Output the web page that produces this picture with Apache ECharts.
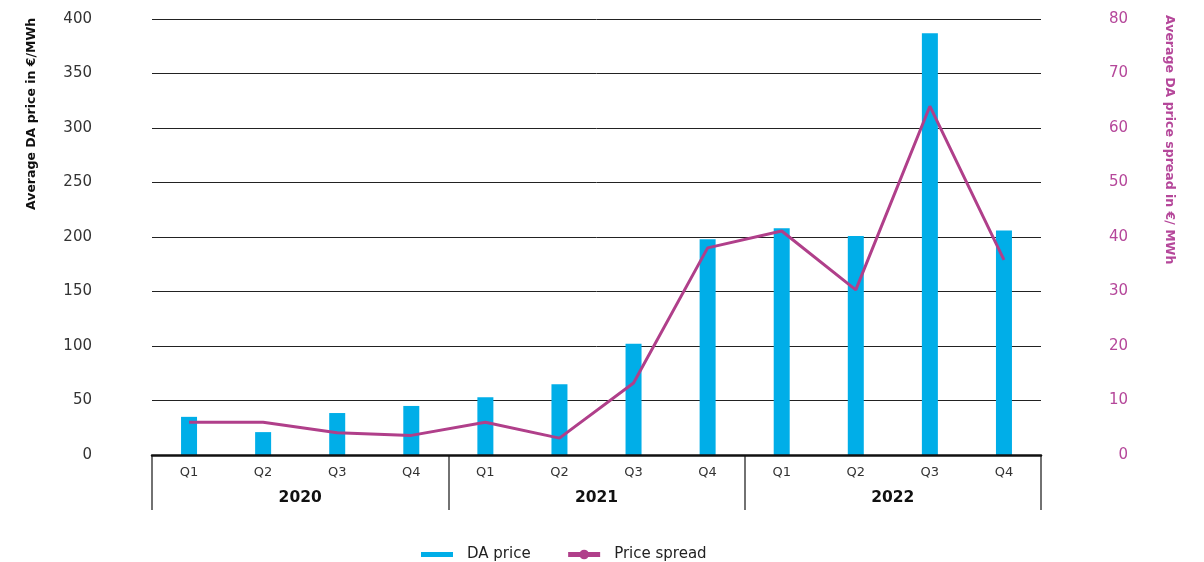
<!DOCTYPE html>
<html>
<head>
<meta charset="utf-8">
<script src="https://cdn.jsdelivr.net/npm/echarts@6/dist/echarts.min.js"></script>
<style>
  html, body { margin: 0; padding: 0; background: #fff; }
  #chart { width: 1204px; height: 562px; }
</style>
</head>
<body>
<div id="chart"></div>
<script>
// Quarterly day-ahead prices and spreads, 2020–2022
const quarters = ['Q1', 'Q2', 'Q3', 'Q4', 'Q1', 'Q2', 'Q3', 'Q4', 'Q1', 'Q2', 'Q3', 'Q4'];
const years = ['2020', '2021', '2022'];
const daPrice = [35, 21, 38.5, 45, 53, 65, 102, 198, 208, 201, 387, 206];
const priceSpread = [6, 6, 4.1, 3.6, 6, 3.1, 13.2, 38, 41.1, 30.3, 64, 35.8];
const leftTicks = { min: 0, max: 400, interval: 50 };
const rightTicks = { min: 0, max: 80, interval: 10 };

const FONT = 'DejaVu Sans';
const BLUE = '#00aee8';
const PURPLE = '#b03f8a';
const PINK_TEXT = '#b5479a';

const chart = echarts.init(document.getElementById('chart'));

chart.setOption({
  animation: false,
  textStyle: { fontFamily: FONT },
  grid: { left: 152, right: 163, top: 19, bottom: 107 },
  legend: {
    top: 542,
    left: 416,
    itemGap: 35,
    itemWidth: 32,
    itemHeight: 12,
    textStyle: { fontSize: 15, color: '#222', fontFamily: FONT, padding: [0, 0, 0, 9] },
    data: [
      { name: 'DA price', icon: 'path://M0,0h32v5h-32z' },
      { name: 'Price spread', lineStyle: { width: 5, color: PURPLE } }
    ]
  },
  xAxis: [
    {
      type: 'category',
      data: quarters,
      position: 'bottom',
      axisLine: { show: true, lineStyle: { color: '#111', width: 2.5 } },
      axisTick: { show: false },
      axisLabel: { margin: 11, fontSize: 13, color: '#333', interval: 0 },
      z: 5
    },
    {
      type: 'category',
      data: years,
      position: 'bottom',
      axisLine: { show: false },
      axisTick: { show: true, length: 55, interval: 0, lineStyle: { color: '#444', width: 1.5 } },
      axisLabel: { margin: 35, fontSize: 15.5, fontWeight: 'bold', color: '#111', interval: 0 }
    }
  ],
  yAxis: [
    {
      type: 'value',
      min: leftTicks.min, max: leftTicks.max, interval: leftTicks.interval,
      axisLine: { show: false },
      axisTick: { show: false },
      axisLabel: { margin: 60, fontSize: 15, color: '#333' },
      splitLine: { lineStyle: { color: '#222', width: 1 } }
    },
    {
      type: 'value',
      position: 'right',
      min: rightTicks.min, max: rightTicks.max, interval: rightTicks.interval,
      axisLine: { show: false },
      axisTick: { show: false },
      axisLabel: { margin: 87, align: 'right', fontSize: 15, color: PINK_TEXT },
      splitLine: { show: false }
    }
  ],
  graphic: [
    {
      type: 'text',
      x: 25, y: 210,
      rotation: Math.PI / 2,
      style: {
        text: 'Average DA price in €/MWh',
        font: 'bold 12.5px "DejaVu Sans"',
        fill: '#111',
        textVerticalAlign: 'top'
      }
    },
    {
      type: 'text',
      x: 1176, y: 15,
      rotation: -Math.PI / 2,
      style: {
        text: 'Average DA price spread in €/ MWh',
        font: 'bold 12.5px "DejaVu Sans"',
        fill: PINK_TEXT,
        textVerticalAlign: 'top'
      }
    }
  ],
  series: [
    {
      name: 'DA price',
      type: 'bar',
      xAxisIndex: 0,
      yAxisIndex: 0,
      data: daPrice,
      barWidth: 16,
      itemStyle: { color: BLUE }
    },
    {
      name: 'Price spread',
      type: 'line',
      xAxisIndex: 0,
      yAxisIndex: 1,
      data: priceSpread,
      symbol: 'circle',
      symbolSize: 9,
      showSymbol: false,
      lineStyle: { color: PURPLE, width: 3 },
      itemStyle: { color: PURPLE },
      z: 10
    }
  ]
});
</script>
</body>
</html>
